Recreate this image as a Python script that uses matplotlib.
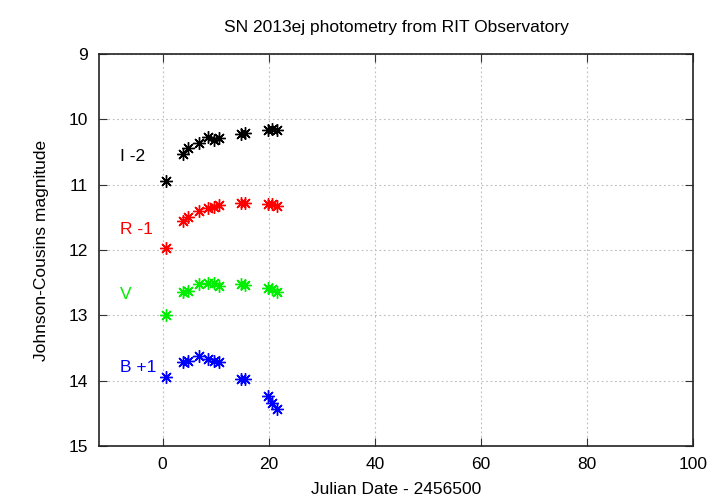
import matplotlib
matplotlib.use('Agg')
import matplotlib.pyplot as plt

plt.rcParams['font.family'] = ['Liberation Sans', 'DejaVu Sans']

# days since JD 2456500, same nights for every band
jd = [0.7, 3.8, 4.7, 6.8, 8.6, 9.6, 10.7, 14.7, 15.5, 19.8, 20.6, 21.5]

# raw magnitudes
I_mag = [12.95, 12.53, 12.44, 12.37, 12.27, 12.31, 12.29, 12.22, 12.21, 12.16, 12.15, 12.17]
R_mag = [12.97, 12.55, 12.50, 12.40, 12.36, 12.34, 12.31, 12.28, 12.28, 12.30, 12.30, 12.33]
V_mag = [12.99, 12.64, 12.62, 12.52, 12.51, 12.51, 12.55, 12.52, 12.54, 12.58, 12.60, 12.65]
B_mag = [12.94, 12.71, 12.70, 12.62, 12.67, 12.70, 12.71, 12.97, 12.97, 13.23, 13.34, 13.43]

bands = ['I', 'R', 'V', 'B']
offsets = [-2, -1, 0, 1]
labels = ['I -2', 'R -1', 'V', 'B +1']
label_y = [10.57, 11.69, 12.68, 13.80]
colors = ['black', 'red', '#00ee00', 'blue']
mags = [I_mag, R_mag, V_mag, B_mag]

fig = plt.figure(figsize=(7.2, 5.04), dpi=100)
ax = fig.add_axes([0.1375, 0.115, 0.825, 0.778])

for m, off, lab, ly, c in zip(mags, offsets, labels, label_y, colors):
    y = [v + off for v in m]
    ax.plot(jd, y, linestyle='none', marker=(8, 2, 0), ms=9, mew=1.0,
            color=c, mec=c)
    ax.text(-8, ly, lab, color=c, fontsize=12.5, va='center', ha='left')

ax.set_xlim(-12, 100)
ax.set_ylim(15, 9)
ax.set_xticks([0, 20, 40, 60, 80, 100])
ax.set_yticks([9, 10, 11, 12, 13, 14, 15])
ax.grid(True, color='#bbbbbb', linestyle=(0, (1.5, 2.5)), linewidth=0.8)
ax.tick_params(direction='in', length=6, top=True, right=True,
               labelsize=12.5, colors='#333333', labelcolor='black', pad=8)
for s in ax.spines.values():
    s.set_linewidth(1.2)
    s.set_color('#222222')

ax.set_title('SN 2013ej photometry from RIT Observatory', fontsize=12.5, pad=16)
ax.set_xlabel('Julian Date - 2456500', fontsize=12.5, labelpad=7)
ax.set_ylabel('Johnson-Cousins magnitude', fontsize=12.5, labelpad=14)

fig.savefig('out.png', dpi=100)
